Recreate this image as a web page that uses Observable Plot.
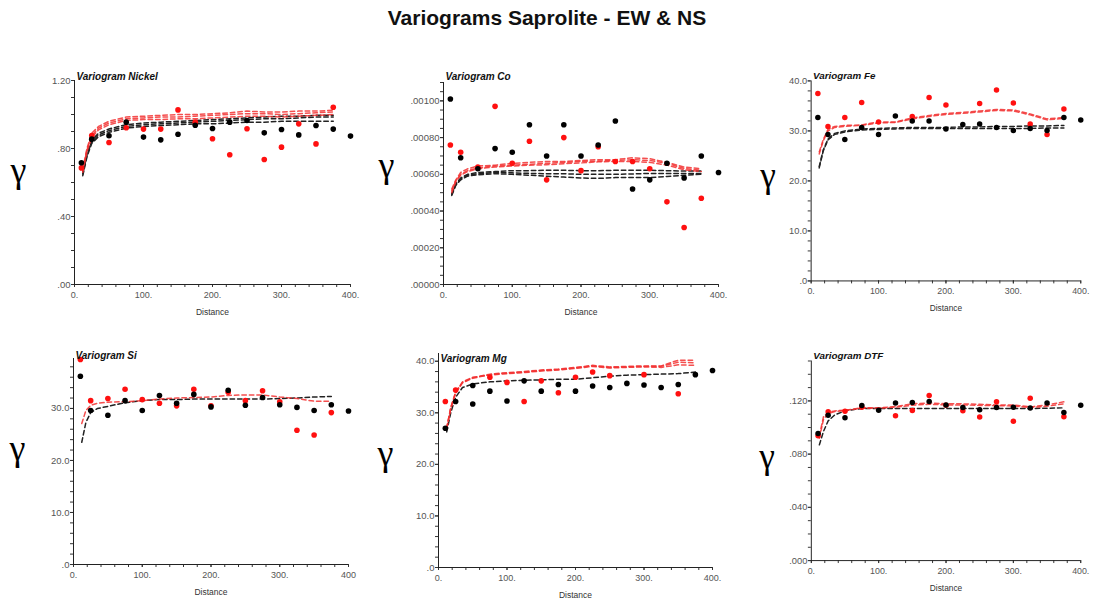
<!DOCTYPE html>
<html>
<head>
<meta charset="utf-8">
<script src="https://cdn.jsdelivr.net/npm/d3@7"></script>
<script src="https://cdn.jsdelivr.net/npm/@observablehq/plot@0.6"></script>
<style>
  html, body { margin: 0; padding: 0; background: #fff; }
  body { width: 1094px; height: 602px; overflow: hidden; position: relative;
         font-family: "Liberation Sans", Arial, sans-serif; }
  #title { position: absolute; left: 0; top: 6px; width: 1094px; text-align: center;
           font-weight: bold; font-size: 21px; color: #111; }
  .panel { position: absolute; }
</style>
</head>
<body>
<div id="title">Variograms Saprolite - EW &amp; NS</div>
<div id="charts"></div>
<script>
// Experimental lags (m)
const lagsEW = [10, 25, 50, 75, 100, 125, 150, 175, 200, 225, 250, 275, 300, 325, 350, 375, 400];
const lagsNS = [10, 25, 50, 75, 100, 125, 150, 175, 200, 225, 250, 275, 300, 325, 350, 375];
// Lags at which the fitted models are evaluated
const modelLags = [12, 18, 25, 35, 50, 75, 100, 125, 150, 175, 200, 225, 250, 275, 300, 325, 350, 375];

// Nickel
const nickelEW = [0.716, 0.855, 0.875, 0.955, 0.867, 0.851, 0.884, 0.937, 0.918, 0.955, 0.965, 0.892, 0.912, 0.880, 0.935, 0.914, 0.873];
const nickelNS = [0.686, 0.876, 0.835, 0.922, 0.914, 0.914, 1.027, 0.955, 0.857, 0.763, 0.916, 0.735, 0.808, 0.945, 0.827, 1.043];
const nickelModelEW1 = [0.66, 0.77, 0.85, 0.89, 0.915, 0.94, 0.95, 0.955, 0.96, 0.965, 0.97, 0.975, 0.98, 0.985, 0.99, 0.99, 0.995, 0.995];
const nickelModelEW2 = [0.65, 0.76, 0.84, 0.88, 0.905, 0.93, 0.94, 0.945, 0.95, 0.955, 0.96, 0.965, 0.97, 0.975, 0.975, 0.98, 0.985, 0.985];
const nickelModelEW3 = [0.64, 0.75, 0.83, 0.87, 0.895, 0.92, 0.93, 0.935, 0.94, 0.945, 0.945, 0.95, 0.955, 0.955, 0.96, 0.96, 0.96, 0.96];
const nickelModelNS1 = [0.68, 0.80, 0.89, 0.93, 0.96, 0.985, 0.99, 0.995, 1.0, 1.0, 1.005, 1.01, 1.02, 1.015, 1.015, 1.02, 1.02, 1.025];
const nickelModelNS2 = [0.67, 0.79, 0.875, 0.92, 0.95, 0.975, 0.98, 0.985, 0.985, 0.99, 0.995, 1.0, 1.005, 1.005, 1.0, 1.005, 1.01, 1.015];
const nickelModelNS3 = [0.66, 0.78, 0.865, 0.91, 0.94, 0.965, 0.97, 0.97, 0.975, 0.975, 0.98, 0.985, 0.99, 0.99, 0.985, 0.99, 0.995, 1.0];

// Cobalt
const coEW = [0.00101, 0.00069, 0.00063, 0.00074, 0.00072, 0.00087, 0.00070, 0.00087, 0.00070, 0.00076, 0.00089, 0.00052, 0.00057, 0.00066, 0.00058, 0.00070, 0.00061];
const coNS = [0.00076, 0.00072, 0.00064, 0.00097, 0.00066, 0.00078, 0.00057, 0.00080, 0.00062, 0.00075, 0.00067, 0.00067, 0.00063, 0.00045, 0.00031, 0.00047];
const coModelEW1 = [0.000495, 0.00055, 0.00058, 0.0006, 0.00061, 0.000615, 0.00062, 0.00062, 0.000622, 0.000622, 0.00062, 0.00062, 0.000622, 0.000622, 0.000622, 0.00062, 0.000618, 0.000618];
const coModelEW2 = [0.00049, 0.000545, 0.000575, 0.000595, 0.000603, 0.00061, 0.000608, 0.000605, 0.000603, 0.000603, 0.0006, 0.0006, 0.0006, 0.000602, 0.000605, 0.000605, 0.000605, 0.000605];
const coModelEW3 = [0.000485, 0.00054, 0.00057, 0.00059, 0.000598, 0.000603, 0.0006, 0.000595, 0.00059, 0.000585, 0.00058, 0.000578, 0.000582, 0.000582, 0.000582, 0.000588, 0.000595, 0.0006];
const coModelNS1 = [0.00052, 0.00057, 0.00061, 0.00063, 0.000645, 0.00065, 0.00066, 0.000665, 0.00067, 0.00067, 0.000675, 0.00068, 0.00068, 0.00069, 0.000685, 0.000665, 0.00064, 0.00063];
const coModelNS2 = [0.00051, 0.000565, 0.0006, 0.00062, 0.000635, 0.000645, 0.00065, 0.000655, 0.00066, 0.000665, 0.00067, 0.000672, 0.000675, 0.00068, 0.000675, 0.00066, 0.000632, 0.000622];
const coModelNS3 = [0.0005, 0.00056, 0.000595, 0.000615, 0.00063, 0.00064, 0.000645, 0.00065, 0.000652, 0.000658, 0.000662, 0.000668, 0.00067, 0.00067, 0.000665, 0.00065, 0.000625, 0.000615];

// Iron
const feEW = [32.7, 29.3, 28.3, 30.7, 29.3, 33.0, 32.0, 32.0, 30.4, 31.3, 31.4, 30.7, 30.1, 30.5, 30.1, 32.7, 32.2];
const feNS = [37.5, 30.9, 32.7, 35.7, 31.8, null, 32.9, 36.7, 35.2, null, 35.5, 38.2, 35.6, 31.4, 29.3, 34.4];
const feModelEW1 = [22.9, 26.2, 28.4, 29.5, 30.0, 30.4, 30.5, 30.6, 30.7, 30.7, 30.7, 30.8, 30.8, 30.9, 30.9, 31.0, 31.0, 31.1];
const feModelEW2 = [22.6, 26.0, 28.2, 29.3, 29.8, 30.2, 30.3, 30.4, 30.5, 30.5, 30.5, 30.5, 30.5, 30.5, 30.5, 30.5, 30.6, 30.6];
const feModelNS1 = [25.8, 28.3, 30.3, 30.9, 31.1, 31.2, 31.8, 31.8, 32.6, 33.1, 33.5, 33.7, 34.0, 34.3, 34.2, 33.4, 32.4, 32.7];
const feModelNS2 = [25.4, 28.0, 30.0, 30.7, 30.9, 31.1, 31.6, 31.7, 32.4, 32.9, 33.3, 33.5, 33.8, 34.1, 34.0, 33.2, 32.2, 32.5];

// Silica
const siEW = [36.2, 29.6, 28.7, 31.5, 29.6, 32.5, 31.0, 32.7, 30.3, 33.5, 30.6, 32.1, 30.7, 30.2, 29.6, 30.7, 29.5];
const siNS = [39.4, 31.5, 31.9, 33.7, 31.7, 31.0, 30.5, 33.7, 30.5, 33.1, 31.5, 33.4, 31.3, 25.8, 24.9, 29.2];
const siModelEW = [23.5, 27.3, 29.2, 30.0, 30.4, 31.1, 31.5, 31.7, 31.7, 31.8, 31.8, 31.8, 31.8, 31.8, 31.9, 32.0, 32.2, 32.3];
const siModelNS = [27.1, 29.6, 30.6, 31.0, 31.2, 31.3, 31.5, 31.8, 32.0, 32.1, 32.2, 32.5, 32.6, 32.6, 32.2, 31.9, 31.4, 31.4];

// Magnesium
const mgEW = [27.0, 32.2, 31.7, 34.2, 32.3, 36.2, 34.2, 35.5, 34.2, 35.2, 34.9, 35.7, 35.4, 34.9, 35.5, 37.4, 38.2];
const mgEWExtraLag = [50];
const mgEWExtra = [35.3];
const mgNS = [32.2, 34.4, null, 36.9, 35.9, 32.2, 36.2, 33.9, 36.9, 37.9, 37.2, null, 37.4, null, 33.7, null];
const mgModelEW = [26.3, 30.1, 33.0, 34.9, 35.6, 36.0, 36.2, 36.3, 36.4, 36.5, 36.5, 36.8, 37.1, 37.3, 37.4, 37.5, 37.6, 37.9];
const mgModelNS1 = [27.1, 31.1, 34.0, 36.0, 36.9, 37.3, 37.6, 37.8, 38.1, 38.3, 38.6, 39.0, 38.7, 38.8, 38.9, 38.8, 39.3, 39.2];
const mgModelNS2 = [27.0, 31.0, 33.9, 35.9, 36.8, 37.5, 37.8, 38.0, 38.3, 38.5, 38.8, 39.2, 38.9, 39.0, 39.1, 39.0, 39.8, 39.7];
const mgModelNS3 = [26.9, 30.9, 33.8, 35.8, 36.7, 37.4, 37.7, 37.9, 38.2, 38.4, 38.7, 39.1, 38.8, 38.9, 39.0, 39.1, 40.2, 40.2];

// DTF
const dtfEW = [0.0955, 0.1093, 0.1074, 0.1165, 0.1129, 0.1184, 0.1188, 0.1196, 0.1170, 0.1150, 0.1134, 0.1150, 0.1153, 0.1146, 0.1185, 0.1112, 0.1167];
const dtfNS = [0.0938, 0.1119, 0.1122, 0.1153, null, 0.1088, 0.1128, 0.1241, 0.1168, 0.1126, 0.1079, 0.1193, 0.1047, 0.1220, null, 0.1081];
const dtfModelEW = [0.087, 0.097, 0.105, 0.1095, 0.1126, 0.1143, 0.1143, 0.1143, 0.1143, 0.1143, 0.1143, 0.1143, 0.1143, 0.1143, 0.1143, 0.1143, 0.1145, 0.1148];
const dtfModelNS1 = [0.094, 0.108, 0.1115, 0.1125, 0.113, 0.1148, 0.1148, 0.1158, 0.1178, 0.1185, 0.1178, 0.1178, 0.1175, 0.117, 0.117, 0.1155, 0.117, 0.1193];
const dtfModelNS2 = [0.092, 0.106, 0.1105, 0.112, 0.1128, 0.1145, 0.1146, 0.1152, 0.1168, 0.1175, 0.117, 0.117, 0.1166, 0.1164, 0.1162, 0.115, 0.116, 0.1178];

// Axis ticks and their labels
const distanceTicks = [0, 100, 200, 300, 400];
const distanceLabels = ["0.", "100.", "200.", "300.", "400."];
const distanceLabelsSi = ["0.", "100.", "200.", "300.", "400"];
const nickelTicks = [0, 0.4, 0.8, 1.2];
const nickelTickLabels = [".00", ".40", ".80", "1.20"];
const coTicks = [0, 0.0002, 0.0004, 0.0006, 0.0008, 0.001];
const coTickLabels = [".00000", ".00020", ".00040", ".00060", ".00080", ".00100"];
const feTicks = [0, 10, 20, 30, 40];
const feTickLabels = [".0", "10.0", "20.0", "30.0", "40.0"];
const siTicks = [0, 10, 20, 30];
const siTickLabels = [".0", "10.0", "20.0", "30.0"];
const mgTicks = [0, 10, 20, 30, 40];
const mgTickLabels = [".0", "10.0", "20.0", "30.0", "40.0"];
const dtfTicks = [0, 0.04, 0.08, 0.12];
const dtfTickLabels = [".000", ".040", ".080", ".120"];

// Panel layout: frame edges in page pixels, title baseline and gamma symbol position
const panels = [
  {title: "Variogram Nickel", ew: nickelEW, ns: nickelNS,
   ewModels: [nickelModelEW1, nickelModelEW2, nickelModelEW3], nsModels: [nickelModelNS1, nickelModelNS2, nickelModelNS3],
   yMax: 1.2, yTicks: nickelTicks, yLabels: nickelTickLabels, yMinor: 0.1, xLabels: distanceLabels,
   box: {x0: 74, x1: 350, yTop: 80, yBot: 284}, titleY: 79, gamma: [18, 177]},
  {title: "Variogram Co", ew: coEW, ns: coNS,
   ewModels: [coModelEW1, coModelEW2, coModelEW3], nsModels: [coModelNS1, coModelNS2, coModelNS3],
   yMax: 0.0011, yTicks: coTicks, yLabels: coTickLabels, yMinor: 0.00005, xLabels: distanceLabels,
   box: {x0: 443, x1: 718, yTop: 82, yBot: 284}, titleY: 79, gamma: [386, 172]},
  {title: "Variogram Fe", ew: feEW, ns: feNS,
   ewModels: [feModelEW1, feModelEW2], nsModels: [feModelNS1, feModelNS2],
   yMax: 40, yTicks: feTicks, yLabels: feTickLabels, yMinor: 2, xLabels: distanceLabels,
   box: {x0: 812, x1: 1087, yTop: 81, yBot: 285}, titleY: 79.5, gamma: [768, 185]},
  {title: "Variogram Si", ew: siEW, ns: siNS,
   ewModels: [siModelEW], nsModels: [siModelNS],
   yMax: 39.6, yTicks: siTicks, yLabels: siTickLabels, yMinor: 2, xLabels: distanceLabelsSi,
   box: {x0: 73, x1: 348, yTop: 358, yBot: 564}, titleY: 358, gamma: [17, 455]},
  {title: "Variogram Mg", ew: mgEW, ns: mgNS, ewExtra: {lags: mgEWExtraLag, values: mgEWExtra},
   ewModels: [mgModelEW], nsModels: [mgModelNS1, mgModelNS2, mgModelNS3],
   yMax: 41.5, yTicks: mgTicks, yLabels: mgTickLabels, yMinor: 2, xLabels: distanceLabels,
   box: {x0: 438, x1: 712, yTop: 353, yBot: 567}, titleY: 361, gamma: [385, 460]},
  {title: "Variogram DTF", ew: dtfEW, ns: dtfNS,
   ewModels: [dtfModelEW], nsModels: [dtfModelNS1, dtfModelNS2],
   yMax: 0.15, yTicks: dtfTicks, yLabels: dtfTickLabels, yMinor: 0.01, xLabels: distanceLabels,
   box: {x0: 812, x1: 1086, yTop: 361, yBot: 564}, titleY: 359, gamma: [767, 465]}
];

const mL = 70, mR = 14, mT = 30, mB = 40;
const xMinor = d3.range(0, 21).map(i => i * 20);
const pairs = (lags, values) => lags.map((lag, i) => ({lag, g: values[i]})).filter(d => d.g != null);

const host = document.getElementById("charts");

for (const p of panels) {
  const b = p.box;
  const yMinor = d3.range(0, Math.floor(p.yMax / p.yMinor + 1e-9) + 1).map(i => i * p.yMinor);
  const yLabelMap = new Map(p.yTicks.map((t, i) => [t, p.yLabels[i]]));
  const xLabelMap = new Map(distanceTicks.map((t, i) => [t, p.xLabels[i]]));
  const ewPoints = pairs(lagsEW, p.ew).concat(p.ewExtra ? pairs(p.ewExtra.lags, p.ewExtra.values) : []);
  const nsPoints = pairs(lagsNS, p.ns);

  const modelMarks = [
    ...p.ewModels.map(m => Plot.line(pairs(modelLags, m), {x: "lag", y: "g", stroke: "#222", strokeWidth: 1.5, strokeDasharray: "4.5,3"})),
    ...p.nsModels.map(m => Plot.line(pairs(modelLags, m), {x: "lag", y: "g", stroke: "#f23030", strokeOpacity: 0.85, strokeWidth: 1.5, strokeDasharray: "4.5,3"}))
  ];

  const chart = Plot.plot({
    width: mL + (b.x1 - b.x0) + mR,
    height: mT + (b.yBot - b.yTop) + mB,
    marginLeft: mL, marginRight: mR, marginTop: mT, marginBottom: mB,
    x: {domain: [0, 400], label: null},
    y: {domain: [0, p.yMax], label: null},
    style: {background: "transparent", fontFamily: "'Liberation Sans', Arial, sans-serif", fontSize: "9px", color: "#333", overflow: "visible"},
    marks: [
      Plot.axisX(xMinor, {tickSize: 3, tickFormat: () => "", stroke: "#333", label: null}),
      Plot.axisX(distanceTicks, {tickSize: 3, tickPadding: 4, tickFormat: d => xLabelMap.get(d), fill: "#555", stroke: "#333", fontSize: 9, label: null}),
      Plot.axisY(yMinor, {tickSize: 3, tickFormat: () => "", stroke: "#333", label: null}),
      Plot.axisY(p.yTicks, {tickSize: 3, tickPadding: 1, tickFormat: d => yLabelMap.get(d), fill: "#555", stroke: "#333", fontSize: 9.5, label: null}),
      Plot.ruleX([0], {stroke: "#222"}),
      Plot.ruleY([0], {stroke: "#222"}),
      ...modelMarks,
      Plot.dot(nsPoints, {x: "lag", y: "g", fill: "#ff1010", r: 2.8}),
      Plot.dot(ewPoints, {x: "lag", y: "g", fill: "#000", r: 2.8}),
      Plot.text([p.title], {text: d => d, frameAnchor: "top-left", textAnchor: "start", lineAnchor: "bottom",
        dx: 2, dy: p.titleY - b.yTop, fontWeight: "bold", fontStyle: "italic", fontSize: 10, fill: "#111"}),
      Plot.text(["Distance"], {text: d => d, frameAnchor: "bottom", textAnchor: "middle", lineAnchor: "middle",
        dy: 28, fontSize: 8.5, fill: "#333"}),
      Plot.text(["γ"], {text: d => d, frameAnchor: "left", textAnchor: "middle", lineAnchor: "middle",
        dx: p.gamma[0] - b.x0, dy: p.gamma[1] - 7 - (b.yTop + b.yBot) / 2,
        fontSize: 36, fontFamily: "'Liberation Serif', 'Times New Roman', serif", fill: "#000"})
    ]
  });
  const wrap = document.createElement("div");
  wrap.className = "panel";
  wrap.style.left = (b.x0 - mL) + "px";
  wrap.style.top = (b.yTop - mT) + "px";
  wrap.appendChild(chart);
  host.appendChild(wrap);
}
</script>
</body>
</html>
